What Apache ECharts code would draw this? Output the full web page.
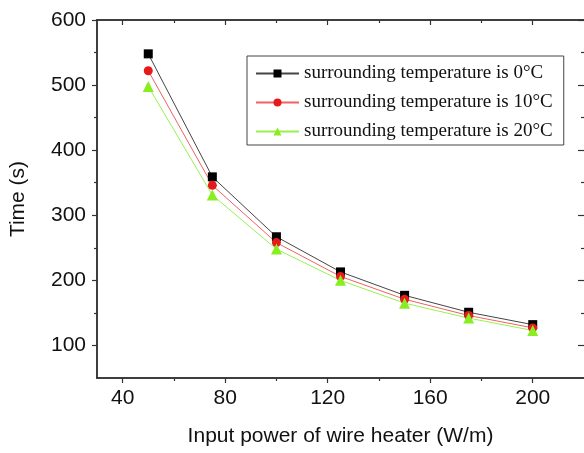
<!DOCTYPE html>
<html>
<head>
<meta charset="utf-8">
<script src="https://cdn.jsdelivr.net/npm/echarts@6/dist/echarts.min.js"></script>
<style>
  html, body { margin: 0; padding: 0; background: #fff; }
  #main { width: 584px; height: 453px; }
</style>
</head>
<body>
<div id="main"></div>
<script>
var powers = [50, 75, 100, 125, 150, 175, 200];
var time0 = [548, 359, 267, 213, 177, 151, 132];
var time10 = [522, 346, 258, 206, 171, 146, 127];
var time20 = [498, 331, 248, 200, 165, 142, 123];
var names = ['surrounding temperature is 0°C', 'surrounding temperature is 10°C', 'surrounding temperature is 20°C'];
var xLabels = [40, 80, 120, 160, 200];
var xMinor = [60, 100, 140, 180];
var yLabels = [100, 200, 300, 400, 500, 600];
var yMinor = [150, 250, 350, 450, 550];

var chart = echarts.init(document.getElementById('main'));
var axisCol = '#333';
var labelFont = { fontFamily: 'Liberation Sans', fontSize: 21, color: '#111' };

function xAx(pos, vals, len, inside, main) {
  return {
    type: 'value', position: pos, min: 30, max: 220,
    name: main ? 'Input power of wire heater (W/m)' : '',
    nameLocation: 'middle', nameGap: 48,
    nameTextStyle: labelFont,
    axisLine: { show: true, onZero: false, lineStyle: { color: axisCol, width: 1.5 } },
    axisTick: { show: true, inside: inside, length: len, customValues: vals, lineStyle: { color: axisCol, width: 1.2 } },
    axisLabel: main ? Object.assign({ customValues: xLabels, margin: 10 }, labelFont) : { show: false },
    splitLine: { show: false }
  };
}
function yAx(pos, vals, len, inside, main) {
  return {
    type: 'value', position: pos, min: 50, max: 600,
    name: main ? 'Time (s)' : '',
    nameLocation: 'middle', nameGap: 68,
    nameTextStyle: labelFont,
    axisLine: { show: pos === 'left', onZero: false, lineStyle: { color: axisCol, width: 1.5 } },
    axisTick: { show: true, inside: inside, length: len, customValues: vals, lineStyle: { color: axisCol, width: 1.2 } },
    axisLabel: main ? Object.assign({ customValues: yLabels, margin: 11 }, labelFont) : { show: false },
    splitLine: { show: false }
  };
}

function pairs(ys) {
  return powers.map(function (p, i) { return [p, ys[i]]; });
}

var option = {
  animation: false,
  grid: { left: 97, right: -1, top: 20, bottom: 75 },
  legend: {
    orient: 'vertical', left: 247, top: 56,
    padding: [8, 11, 4, 8], itemGap: 10,
    itemWidth: 43, itemHeight: 10,
    borderColor: '#444', borderWidth: 1,
    textStyle: { fontFamily: 'Liberation Serif', fontSize: 19, color: '#111' },
    data: names
  },
  xAxis: [
    xAx('bottom', xLabels, 5, false, true),
    xAx('bottom', xMinor, 3, false, false),
    xAx('top', xLabels, 5, true, false),
    xAx('top', xMinor, 3, true, false)
  ],
  yAxis: [
    yAx('left', yLabels, 5, false, true),
    yAx('left', yMinor, 3, false, false),
    yAx('right', yLabels, 6, true, false),
    yAx('right', yMinor, 3, true, false)
  ],
  series: [
    {
      name: names[0], type: 'line', data: pairs(time0),
      symbol: 'rect', symbolSize: 9,
      itemStyle: { color: '#000' },
      lineStyle: { color: '#444', width: 1 }
    },
    {
      name: names[1], type: 'line', data: pairs(time10),
      symbol: 'circle', symbolSize: 9,
      itemStyle: { color: '#e51b1b' },
      lineStyle: { color: '#f06060', width: 1 }
    },
    {
      name: names[2], type: 'line', data: pairs(time20),
      symbol: 'triangle', symbolSize: 11,
      itemStyle: { color: '#88ee22' },
      lineStyle: { color: '#99f050', width: 1 }
    }
  ]
};
chart.setOption(option);
</script>
</body>
</html>
